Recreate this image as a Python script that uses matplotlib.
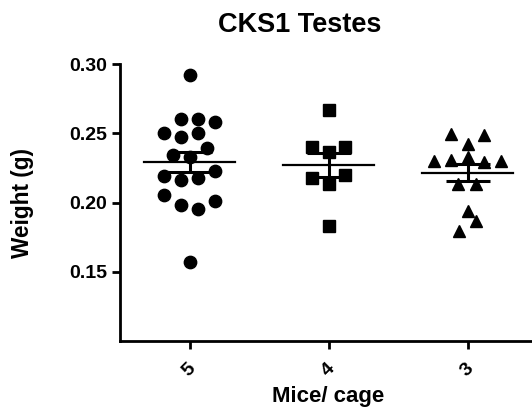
import numpy as np
import matplotlib
matplotlib.use('Agg')
import matplotlib.pyplot as plt

plt.rcParams['font.family'] = ['Liberation Sans', 'DejaVu Sans']
plt.rcParams['font.weight'] = 'bold'

# Data
groups = ["5", "4", "3"]

weights_5 = [0.292, 0.260, 0.260, 0.258, 0.2505, 0.247, 0.250, 0.239, 0.2346, 0.2328,
             0.223, 0.219, 0.216, 0.218, 0.2056, 0.201, 0.198, 0.195, 0.157]
offsets_5 = [0.0, -0.06, 0.06, 0.18, -0.18, -0.06, 0.06, 0.125, -0.12, 0.0,
             0.18, -0.18, -0.06, 0.06, -0.18, 0.18, -0.06, 0.06, 0.0]

weights_4 = [0.2667, 0.240, 0.240, 0.2365, 0.218, 0.220, 0.2135, 0.183]
offsets_4 = [0.0, -0.12, 0.12, 0.0, -0.12, 0.12, 0.0, 0.0]

weights_3 = [0.2498, 0.249, 0.2425, 0.230, 0.231, 0.2326, 0.2295, 0.2302,
             0.213, 0.2135, 0.1937, 0.1864, 0.1797]
offsets_3 = [-0.12, 0.12, 0.0, -0.24, -0.12, 0.0, 0.12, 0.24,
             -0.07, 0.06, 0.0, 0.06, -0.06]

all_weights = [weights_5, weights_4, weights_3]
all_offsets = [offsets_5, offsets_4, offsets_3]
markers = ['o', 's', '^']

fig = plt.figure(figsize=(5.32, 4.15), dpi=100)
ax = fig.add_axes([120 / 532, 74 / 415, 417 / 532, 277 / 415])

for i, (w, off, m) in enumerate(zip(all_weights, all_offsets, markers)):
    w = np.array(w)
    x = i + np.array(off)
    ax.plot(x, w, m, color='black', markersize=8.9, linestyle='none', zorder=2)
    mean = w.mean()
    sem = w.std(ddof=1) / np.sqrt(len(w))
    # mean line
    ax.plot([i - 0.33, i + 0.33], [mean, mean], color='black', lw=1.6, zorder=3)
    # SEM bar
    ax.errorbar(i, mean, yerr=sem, fmt='none', ecolor='black', elinewidth=2.2,
                capsize=16, capthick=2.2, zorder=3)

ax.set_xlim(-0.5, 2.5)
ax.set_ylim(0.10, 0.30)
ax.set_yticks([0.15, 0.20, 0.25, 0.30])
ax.set_yticklabels(["0.15", "0.20", "0.25", "0.30"])
ax.set_xticks(range(len(groups)))
ax.set_xticklabels(groups, rotation=45, ha='center')

ax.spines['top'].set_visible(False)
ax.spines['right'].set_visible(False)
ax.spines['left'].set_linewidth(2.0)
ax.spines['bottom'].set_linewidth(2.0)
ax.tick_params(axis='y', length=6, width=2, labelsize=14, pad=3)
ax.tick_params(axis='x', length=6, width=2, labelsize=14, pad=8)
for lab in ax.get_xticklabels() + ax.get_yticklabels():
    lab.set_fontweight('bold')

fig.text(300 / 532, 1 - 32 / 415, "CKS1 Testes", ha='center', va='baseline',
         fontsize=19.5, fontweight='bold')
fig.text(328 / 532, 13 / 415, "Mice/ cage", ha='center', va='baseline',
         fontsize=16, fontweight='bold')
fig.text(23 / 532, 0.512, "Weight (g)", ha='center', va='center', rotation=90,
         fontsize=16.3, fontweight='bold')

fig.savefig("out.png", dpi=100)
